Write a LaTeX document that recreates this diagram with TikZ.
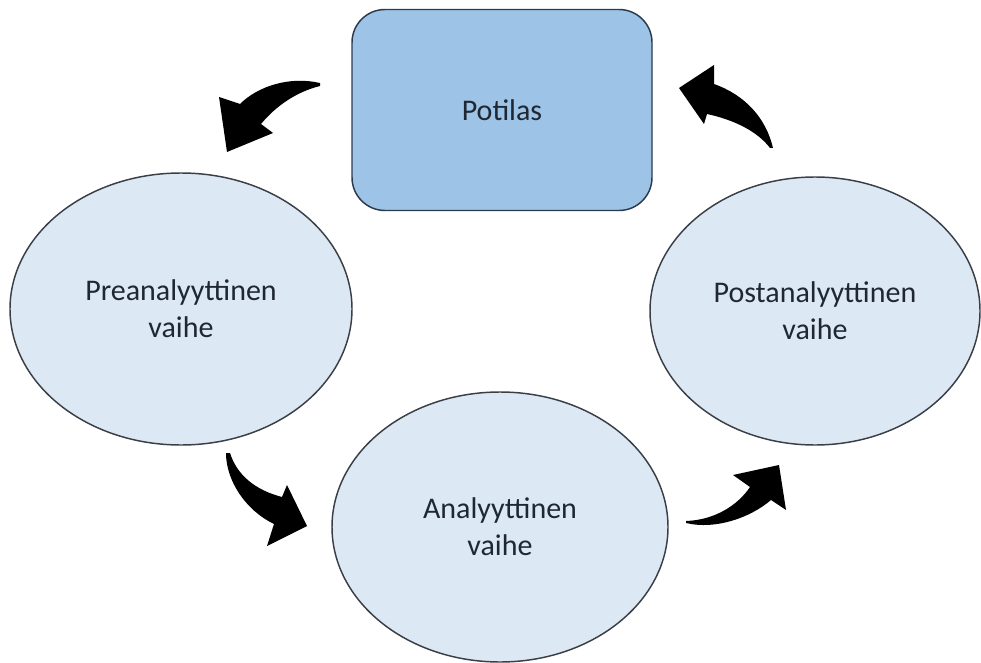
\documentclass[tikz,border=0pt]{standalone}
\usepackage{fontspec}
\setmainfont{Carlito}
\usepackage{tikz}
\usetikzlibrary{
shapes.geometric,
positioning
}
\definecolor{PhaseIce}{HTML}{DDE8F5}
\definecolor{PhaseBlue}{HTML}{9DC3E6}
\definecolor{PhaseEdge}{HTML}{3A3F46}
\definecolor{PhaseNavy}{HTML}{2B3A4E}
\definecolor{PhaseText}{HTML}{1F2733}
\tikzset{
phaseell/.style={ellipse, draw=PhaseEdge, fill=PhaseIce, line width=1.1pt, inner sep=0pt,
  align=center, text=PhaseText, font=\fontsize{22.5}{27.5}\selectfont},
patientbox/.style={draw=PhaseNavy, fill=PhaseBlue, line width=1.1pt, rounded corners=24.75pt,
  align=center, text=PhaseText, minimum width=225pt, minimum height=150.75pt,
  font=\fontsize{22.5}{27.5}\selectfont},
cyclearrow/.style={fill=black}
}

\begin{document}
\begin{tikzpicture}[x=0.75pt, y=-0.75pt]
\useasboundingbox (0,0) rectangle (981,663);
\node[patientbox] (pot) at (502,110) {Potilas};
\node[phaseell, minimum width=256.5pt, minimum height=204pt] (pre) at (181,309) {Preanalyyttinen\\vaihe};
\node[phaseell, minimum width=252pt, minimum height=202.5pt] (ana) at (500,527) {Analyyttinen\\vaihe};
\node[phaseell, minimum width=247.5pt, minimum height=201pt] (post) at (815,311) {Postanalyyttinen\\vaihe};
% curved block arrows between the phases
\fill[cyclearrow] (320,83) .. controls (290,76) and (258,86) .. (240,104) -- (219,97) -- (227,152)
  -- (273,133) -- (261,124) .. controls (276,106) and (296,92) .. (320,86) -- cycle;
\fill[cyclearrow] (226,453) .. controls (226,480) and (245,510) .. (274,524) -- (267,546) -- (307,526)
  -- (287,485) -- (282,497) .. controls (255,490) and (237,475) .. (230,453) -- cycle;
\fill[cyclearrow] (686,523) .. controls (715,530) and (750,518) .. (771,500) -- (786,510) -- (779,465)
  -- (733,475) -- (750,487) .. controls (738,505) and (715,520) .. (686,521) -- cycle;
\fill[cyclearrow] (714,84) .. controls (745,95) and (766,118) .. (773,148) -- (770,148)
  .. controls (758,132) and (735,120) .. (707,114) -- (704,124) -- (679,88) -- (714,65) -- cycle;
\end{tikzpicture}
\end{document}
